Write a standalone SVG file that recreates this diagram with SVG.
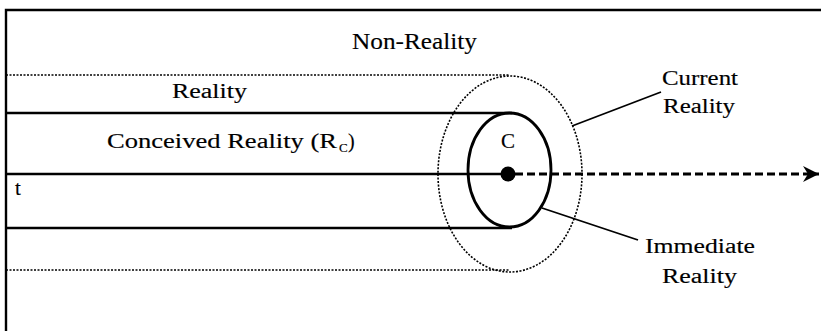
<svg xmlns="http://www.w3.org/2000/svg" width="821" height="331" viewBox="0 0 821 331">
<style>
text{font-family:"Liberation Serif","Times New Roman",serif;fill:#000;stroke:#000;stroke-width:0.15}
.solid{stroke:#000;stroke-width:2.4;fill:none}
.dot{stroke:#000;stroke-width:1.6;stroke-dasharray:2 1.5;fill:none}
.lead{stroke:#000;stroke-width:1.8;fill:none}
</style>
<defs>
<marker id="arr" markerWidth="16" markerHeight="16" refX="16" refY="8" orient="auto" markerUnits="userSpaceOnUse">
<path d="M0,0 L16,8 L0,16 L5,8 Z" fill="#000"/>
</marker>
</defs>
<rect width="821" height="331" fill="#fff"/>
<g id="frame">
<path class="solid" d="M6,331 V10 H821"/>
</g>
<g id="bands">
<line class="dot" x1="6" y1="75" x2="510" y2="75"/>
<line class="solid" x1="6" y1="113" x2="512" y2="113"/>
<line class="solid" x1="6" y1="228" x2="512" y2="228"/>
<line class="dot" x1="6" y1="270" x2="510" y2="270"/>
</g>
<g id="current-reality">
<ellipse class="dot" cx="510" cy="174" rx="72" ry="98"/>
</g>
<g id="immediate-reality">
<ellipse cx="509.5" cy="170" rx="41.5" ry="57" fill="none" stroke="#000" stroke-width="2.8"/>
</g>
<g id="c-point">
<circle cx="508" cy="174" r="7.5" fill="#000"/>
<text x="508" y="148" font-size="21" text-anchor="middle">C</text>
</g>
<g id="connectors">
<line class="solid" x1="6" y1="174" x2="508" y2="174" stroke-width="2.8"/>
<line x1="515" y1="174" x2="819" y2="174" stroke="#000" stroke-width="2.8" stroke-dasharray="8 4" marker-end="url(#arr)"/>
<line class="lead" x1="572" y1="126" x2="661" y2="92"/>
<line class="lead" x1="542" y1="208" x2="638" y2="240"/>
</g>
<g id="labels">
<text x="352" y="49" font-size="24" textLength="125" lengthAdjust="spacingAndGlyphs">Non-Reality</text>
<text x="172" y="98" font-size="20" textLength="75" lengthAdjust="spacingAndGlyphs">Reality</text>
<text x="107" y="148" font-size="20" textLength="230" lengthAdjust="spacingAndGlyphs">Conceived Reality (R</text>
<text x="339" y="152" font-size="13">C</text>
<text x="348" y="148" font-size="20">)</text>
<text x="15" y="195" font-size="21">t</text>
<text x="662" y="85" font-size="20" textLength="76" lengthAdjust="spacingAndGlyphs">Current</text>
<text x="663" y="113" font-size="20" textLength="72" lengthAdjust="spacingAndGlyphs">Reality</text>
<text x="645" y="253" font-size="20" textLength="110" lengthAdjust="spacingAndGlyphs">Immediate</text>
<text x="662" y="283" font-size="20" textLength="75" lengthAdjust="spacingAndGlyphs">Reality</text>
</g>
</svg>
